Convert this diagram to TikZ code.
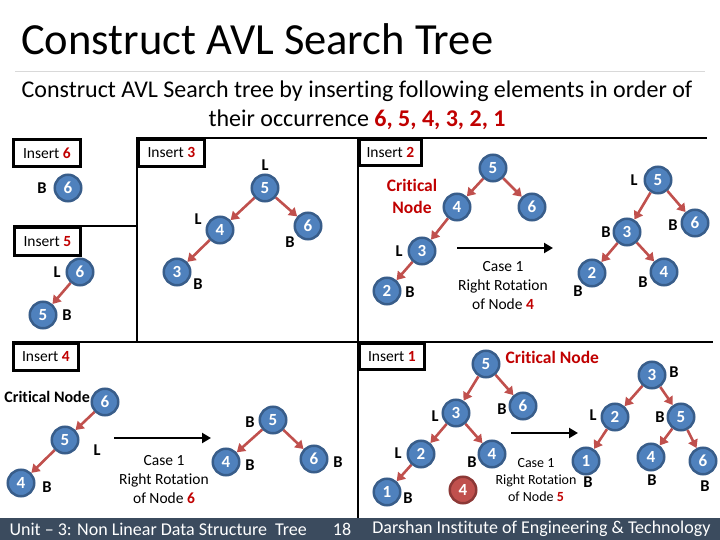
\documentclass[tikz,border=0pt]{standalone}
\usepackage{fontspec}
\setmainfont{Carlito}[Ligatures=NoCommon]
\usetikzlibrary{arrows.meta}
\definecolor{nodeblue}{RGB}{79,129,189}
\definecolor{nodeedge}{RGB}{56,93,138}
\definecolor{arrowred}{RGB}{192,80,77}
\definecolor{newedge}{RGB}{140,56,54}
\definecolor{textred}{RGB}{192,0,0}
\definecolor{footbg}{RGB}{59,75,94}
\definecolor{rulegray}{RGB}{217,217,217}
\newcommand{\rd}[1]{\textcolor{textred}{\bfseries #1}}
\tikzset{
  avl/.style={circle, draw=nodeedge, line width=2.5pt, fill=nodeblue, text=white,
    font=\bfseries\fontsize{17}{17}\selectfont, minimum size=26.5pt, inner sep=0pt},
  newavl/.style={avl, fill=arrowred, draw=newedge},
  bal/.style={font=\bfseries\fontsize{16.5}{16.5}\selectfont, inner sep=0pt},
  edge/.style={draw=arrowred, line width=2.6pt, -{Triangle[length=8pt,width=10pt]}},
  rot/.style={line width=2.8pt, -{Triangle[length=9pt,width=10pt]}},
  frame/.style={line width=2.8pt},
  insbox/.style={draw, line width=2.8pt, anchor=north west, minimum height=27pt,
    inner sep=0pt, font=\fontsize{15.5}{15.5}\selectfont},
  casetxt/.style={align=center, font=\fontsize{15.5}{19}\selectfont},
  crit/.style={align=center, text=textred, font=\bfseries\fontsize{17.5}{22}\selectfont},
  foot/.style={text=white, font=\fontsize{18}{18}\selectfont}
}

\begin{document}
\begin{tikzpicture}[x=1pt,y=-1pt]
		%%%%% START %%%%%
		\useasboundingbox (0,0) rectangle (720,540);
		
		\node[anchor=base west, font=\fontsize{44.5}{44.5}\selectfont, inner sep=0pt] (title) at (21,55) {Construct AVL Search Tree};
		\draw[rulegray, line width=1pt] (15,72) -- (705,72);
		\node[anchor=base, font=\fontsize{24}{28}\selectfont, inner sep=0pt] (sub1) at (357,98) {Construct AVL Search tree by inserting following elements in order of};
		\node[anchor=base, font=\fontsize{24}{28}\selectfont, inner sep=0pt] (sub2) at (357,127) {their occurrence \rd{6, 5, 4, 3, 2, 1}};
		
		% panel lines
		\draw[frame] (137,342) -- (137,138) -- (707,138);
		\draw[frame] (358,138) -- (358,518);
		\draw[frame] (12,342) -- (713,342);
		\draw[frame] (13,226) -- (137,226);
		
		\node[insbox, minimum width=67pt] (ins6) at (12,138) {Insert \rd{6}};
		\node[insbox, minimum width=66pt] (ins3) at (137,138) {Insert \rd{3}};
		\node[insbox, minimum width=66pt, minimum height=28pt] (ins5) at (13,226) {Insert \rd{5}};
		\node[insbox, minimum width=62pt, minimum height=26pt] (ins2) at (358,138) {Insert \rd{2}};
		\node[insbox, minimum width=65pt] (ins4) at (12,342) {Insert \rd{4}};
		\node[insbox, minimum width=65pt, minimum height=26pt] (ins1) at (358,342) {Insert \rd{1}};
		
		% insert 6
		\node[avl] (n6a) at (68,188) {6};
		\node[bal] (b6a) at (42,188) {B};
		
		% insert 5
		\node[avl] (n6b) at (80,272) {6};
		\node[bal] (l6b) at (57,272) {L};
		\node[avl] (n5b) at (43,315) {5};
		\node[bal] (b5b) at (67,315) {B};
		\draw[edge] (n6b) -- (n5b);
		
		% insert 3
		\node[avl] (n5c) at (265,188) {5};
		\node[bal] (l5c) at (265,165) {L};
		\node[avl] (n4c) at (220,230) {4};
		\node[bal] (l4c) at (198,219) {L};
		\node[avl] (n6c) at (308,226) {6};
		\node[bal] (b6c) at (290,242) {B};
		\node[avl] (n3c) at (177,272) {3};
		\node[bal] (b3c) at (198,284) {B};
		\draw[edge] (n5c) -- (n4c);
		\draw[edge] (n5c) -- (n6c);
		\draw[edge] (n4c) -- (n3c);
		
		% insert 2
		\node[avl] (n5d) at (493,168) {5};
		\node[avl] (n4d) at (457,207) {4};
		\node[avl] (n6d) at (532,207) {6};
		\node[crit] (critd) at (412,196) {Critical\\Node};
		\node[avl] (n3d) at (422,251) {3};
		\node[bal] (l3d) at (399,251) {L};
		\node[avl] (n2d) at (387,291) {2};
		\node[bal] (b2d) at (410,292) {B};
		\draw[edge] (n5d) -- (n4d);
		\draw[edge] (n5d) -- (n6d);
		\draw[edge] (n4d) -- (n3d);
		\draw[edge] (n3d) -- (n2d);
		
		\coordinate (rotd1) at (457,248);
		\coordinate (rotd2) at (553,248);
		\draw[rot] (rotd1) -- (rotd2);
		\node[casetxt] (cased) at (503,286) {Case 1\\Right Rotation\\of Node \rd{4}};
		
		\node[avl] (n5e) at (658,180) {5};
		\node[bal] (l5e) at (634,180) {L};
		\node[avl] (n3e) at (627,232) {3};
		\node[bal] (b3e) at (606,232) {B};
		\node[avl] (n6e) at (695,223) {6};
		\node[bal] (b6e) at (673,225) {B};
		\node[avl] (n2e) at (592,273) {2};
		\node[bal] (b2e) at (578,291) {B};
		\node[avl] (n4e) at (664,272) {4};
		\node[bal] (b4e) at (643,282) {B};
		\draw[edge] (n5e) -- (n3e);
		\draw[edge] (n5e) -- (n6e);
		\draw[edge] (n3e) -- (n2e);
		\draw[edge] (n3e) -- (n4e);
		
		% insert 4
		\node[avl] (n6f) at (105,402) {6};
		\node[bal, anchor=east, font=\bfseries\fontsize{16}{16}\selectfont] (critf) at (90,397) {Critical Node};
		\node[avl] (n5f) at (65,440) {5};
		\node[bal] (l5f) at (97,450) {L};
		\node[avl] (n4f) at (21,483) {4};
		\node[bal] (b4f) at (47,487) {B};
		\draw[edge] (n6f) -- (n5f);
		\draw[edge] (n5f) -- (n4f);
		
		\coordinate (rotf1) at (114,438);
		\coordinate (rotf2) at (211,438);
		\draw[rot] (rotf1) -- (rotf2);
		\node[casetxt] (casef) at (164,480) {Case 1\\Right Rotation\\of Node \rd{6}};
		
		\node[avl] (n5g) at (273,420) {5};
		\node[bal] (b5g) at (250,422) {B};
		\node[avl] (n4g) at (226,462) {4};
		\node[bal] (b4g) at (250,465) {B};
		\node[avl] (n6g) at (314,459) {6};
		\node[bal] (b6g) at (338,462) {B};
		\draw[edge] (n5g) -- (n4g);
		\draw[edge] (n5g) -- (n6g);
		
		% insert 1
		\node[avl] (n5h) at (486,364) {5};
		\node[crit, anchor=west] (crith) at (502,357) {Critical Node};
		\node[avl] (n6h) at (523,406) {6};
		\node[bal] (b6h) at (502,409) {B};
		\node[avl] (n3h) at (456,413) {3};
		\node[bal] (l3h) at (435,416) {L};
		\node[avl] (n2h) at (421,454) {2};
		\node[bal] (l2h) at (398,453) {L};
		\node[avl] (n4h) at (492,454) {4};
		\node[bal] (b4h) at (472,462) {B};
		\node[avl] (n1h) at (387,492) {1};
		\node[bal] (b1h) at (408,498) {B};
		\node[newavl] (new4) at (463,490) {4};
		\draw[edge] (n5h) -- (n3h);
		\draw[edge] (n5h) -- (n6h);
		\draw[edge] (n3h) -- (n2h);
		\draw[edge] (n3h) -- (n4h);
		\draw[edge] (n2h) -- (n1h);
		
		\coordinate (roth1) at (511,433);
		\coordinate (roth2) at (578,433);
		\draw[rot] (roth1) -- (roth2);
		\node[casetxt, font=\fontsize{14}{17}\selectfont] (caseh) at (536,480) {Case 1\\Right Rotation\\of Node \rd{5}};
		
		\node[avl] (n3i) at (652,375) {3};
		\node[bal] (b3i) at (674,372) {B};
		\node[avl] (n2i) at (615,417) {2};
		\node[bal] (l2i) at (593,415) {L};
		\node[avl] (n5i) at (681,417) {5};
		\node[bal] (b5i) at (660,417) {B};
		\node[avl] (n1i) at (586,461) {1};
		\node[bal] (b1i) at (588,482) {B};
		\node[avl] (n4i) at (651,457) {4};
		\node[bal] (b4i) at (652,480) {B};
		\node[avl] (n6i) at (703,461) {6};
		\node[bal] (b6i) at (705,486) {B};
		\draw[edge] (n3i) -- (n2i);
		\draw[edge] (n3i) -- (n5i);
		\draw[edge] (n2i) -- (n1i);
		\draw[edge] (n5i) -- (n4i);
		\draw[edge] (n5i) -- (n6i);
		
		% footer
		\fill[footbg] (0,518) rectangle (720,540);
		\node[foot, anchor=west] (unit) at (6,529) {Unit – 3: Non Linear Data Structure\ \ Tree};
		\node[foot] (page) at (342,529) {18};
		\node[foot, anchor=east] (inst) at (714,529) {Darshan Institute of Engineering \& Technology};
		%%%%% END %%%%%
	\end{tikzpicture}
\end{document}
